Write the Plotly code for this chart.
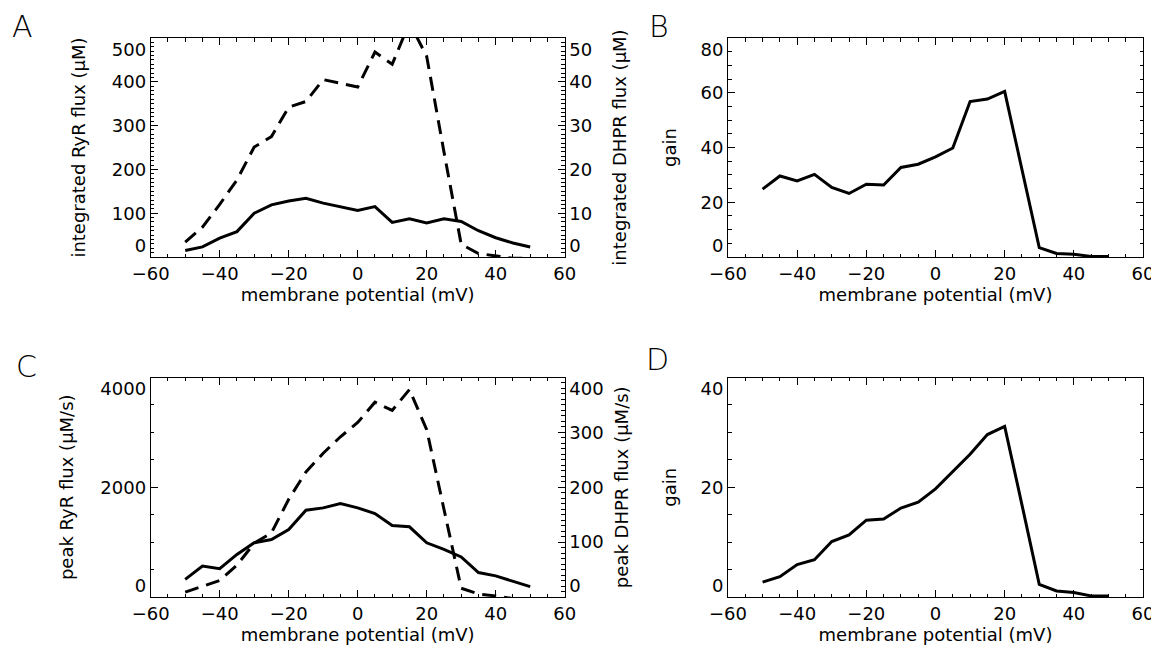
import plotly.graph_objects as go

# ---- data ----
voltage = [-50, -45, -40, -35, -30, -25, -20, -15, -10, -5, 0, 5, 10, 15, 20, 25, 30, 35, 40, 45, 50]

# Panel A
int_ryr = [15, 23, 43, 58, 100, 119, 128, 134, 123, 115, 106, 115, 79, 87, 78, 87, 81, 60, 44, 32, 23]
int_dhpr = [3.4, 6.8, 12.0, 17.6, 25.1, 27.5, 34.2, 35.5, 40.5, 39.6, 38.8, 46.8, 44.0, 53.5, 45.8, 24.0, 2.9, 0.8, 0.3, -0.3, -0.3]

# Panel B
gain_int = [24.8, 29.6, 27.8, 30.2, 25.4, 23.2, 26.6, 26.3, 32.7, 33.9, 36.6, 39.8, 56.8, 57.7, 60.5, 32.0, 3.4, 1.3, 1.0, 0.2, 0.2]

# Panel C
peak_ryr = [320, 564, 515, 776, 988, 1048, 1230, 1582, 1624, 1703, 1624, 1521, 1303, 1279, 988, 867, 730, 445, 385, 280, 188]
peak_dhpr = [9, 20, 30, 58, 98, 117, 178, 228, 262, 292, 318, 355, 340, 378, 305, 160, 16, 5.5, 2, -3, -3]

# Panel D
gain_peak = [2.7, 3.7, 5.9, 6.8, 10.1, 11.3, 14.0, 14.2, 16.2, 17.3, 19.7, 22.8, 26.0, 29.6, 31.1, 16.8, 2.3, 1.1, 0.8, 0.2, 0.2]

x_title = "membrane potential (mV)"
panel_letters = ["A", "B", "C", "D"]

# tick values per axis
ticks_int_ryr = [0, 100, 200, 300, 400, 500]
ticks_int_dhpr = [0, 10, 20, 30, 40, 50]
ticks_gain_int = [0, 20, 40, 60, 80]
ticks_peak_ryr = [0, 2000, 4000]
ticks_peak_dhpr = [0, 100, 200, 300, 400]
ticks_gain_peak = [0, 20, 40]

# ---- figure ----
PAGE_W, PAGE_H = 1159, 656
OFF = 8  # page body margin of the html page
W, H = PAGE_W - OFF, PAGE_H - OFF
FONT = "DejaVu Sans"
tickfont = dict(family=FONT, size=18, color="black")
titlefont = dict(family=FONT, size=18, color="black")

solid = dict(color="black", width=3)
dashed = dict(color="black", width=3, dash="14px,8px")

fig = go.Figure()
fig.add_trace(go.Scatter(x=voltage, y=int_ryr, mode="lines", line=solid, xaxis="x", yaxis="y", showlegend=False))
fig.add_trace(go.Scatter(x=voltage, y=int_dhpr, mode="lines", line=dashed, xaxis="x", yaxis="y2", showlegend=False))
fig.add_trace(go.Scatter(x=voltage, y=gain_int, mode="lines", line=solid, xaxis="x2", yaxis="y3", showlegend=False))
fig.add_trace(go.Scatter(x=voltage, y=peak_ryr, mode="lines", line=solid, xaxis="x3", yaxis="y4", showlegend=False))
fig.add_trace(go.Scatter(x=voltage, y=peak_dhpr, mode="lines", line=dashed, xaxis="x3", yaxis="y5", showlegend=False))
fig.add_trace(go.Scatter(x=voltage, y=gain_peak, mode="lines", line=solid, xaxis="x4", yaxis="y6", showlegend=False))


def px_x(a, b):
    return [(a - OFF) / W, (b - OFF) / W]


def px_y(top, bottom):
    return [1 - (bottom - OFF) / H, 1 - (top - OFF) / H]


def end_labels(vals):
    # first label nudged up, last label nudged down (as in the original figure)
    txt = [str(v) for v in vals]
    txt[0] = txt[0] + "<br>\u00a0"
    txt[-1] = "\u00a0<br>" + txt[-1]
    return txt


def xax(dom, anchor):
    return dict(
        domain=dom, anchor=anchor, range=[-60, 60], dtick=20, tick0=0,
        ticks="inside", ticklen=7, tickwidth=1, tickcolor="black",
        minor=dict(dtick=5, ticks="inside", ticklen=3.5, tickcolor="black", tickwidth=1),
        showline=True, linecolor="black", linewidth=1, mirror="ticks",
        showgrid=False, zeroline=False, tickfont=tickfont, automargin=False,
        title=dict(text=x_title, font=titlefont, standoff=4),
    )


def yax(dom, anchor, rng, vals, mdt, title, side="left", mirror=False, overlaying=None, standoff=12):
    d = dict(
        domain=dom, anchor=anchor, range=rng, side=side,
        tickmode="array", tickvals=vals, ticktext=end_labels(vals),
        ticks="inside", ticklen=7, tickwidth=1, tickcolor="black",
        minor=dict(dtick=mdt, tick0=0, ticks="inside", ticklen=3.5, tickcolor="black", tickwidth=1),
        showline=True, linecolor="black", linewidth=1, mirror=mirror,
        showgrid=False, zeroline=False, tickfont=tickfont, automargin=False,
        title=dict(text=title, font=titlefont, standoff=standoff),
    )
    if overlaying:
        d["overlaying"] = overlaying
    return d


xa_left = px_x(150.7, 564.7)
xa_right = px_x(728, 1143)
ya_top = px_y(38, 257)
ya_bot = px_y(377.5, 597)

fig.update_layout(
    width=W, height=H,
    margin=dict(l=0, r=0, t=0, b=0),
    paper_bgcolor="white", plot_bgcolor="white",
    showlegend=False,
    xaxis=xax(xa_left, "y"),
    yaxis=yax(ya_top, "x", [0, 500], ticks_int_ryr, 10, "integrated RyR flux (μM)", standoff=21),
    yaxis2=yax(ya_top, "x", [0, 50], ticks_int_dhpr, 1, "integrated DHPR flux (μM)", side="right", overlaying="y", standoff=22),
    xaxis2=xax(xa_right, "y3"),
    yaxis3=yax(ya_top, "x2", [0, 80], ticks_gain_int, 5, "gain", mirror="ticks", standoff=19),
    xaxis3=xax(xa_left, "y4"),
    yaxis4=yax(ya_bot, "x3", [0, 4000], ticks_peak_ryr, 500, "peak RyR flux (μM/s)", standoff=21),
    yaxis5=yax(ya_bot, "x3", [0, 400], ticks_peak_dhpr, 10, "peak DHPR flux (μM/s)", side="right", overlaying="y4", standoff=12),
    xaxis4=xax(xa_right, "y6"),
    yaxis6=yax(ya_bot, "x4", [0, 40], ticks_gain_peak, 5, "gain", mirror="ticks", standoff=19),
)

# panel letters: (x centre, top of text box) in page pixels
letter_pos = [(23, 8), (659, 8), (26, 348), (657, 341)]
for letter, (lx, ly) in zip(panel_letters, letter_pos):
    fig.add_annotation(
        x=(lx - OFF) / W, y=1 - (ly - OFF) / H, xref="paper", yref="paper", text=letter, showarrow=False,
        font=dict(family=FONT, size=30, color="black", weight=200), xanchor="center", yanchor="top",
        borderpad=0,
    )

fig.write_html("out.html")
